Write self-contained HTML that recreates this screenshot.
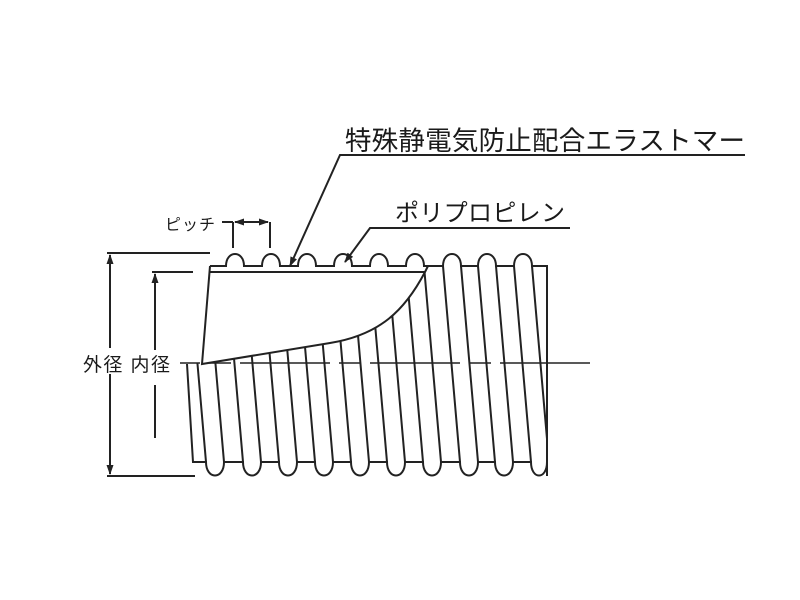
<!DOCTYPE html>
<html><head><meta charset="utf-8"><style>
html,body{margin:0;padding:0;background:#fff;}
svg{display:block;}
text{font-family:"Liberation Sans","Noto Sans CJK JP",sans-serif;fill:#1a1a1a;}
</style></head><body>
<svg width="800" height="600" viewBox="0 0 800 600" xmlns="http://www.w3.org/2000/svg">
<defs>
<clipPath id="c"><rect x="180" y="240" width="367.5" height="250"/></clipPath>
<marker id="a" markerWidth="10" markerHeight="10" refX="9" refY="5" orient="auto" markerUnits="userSpaceOnUse"><path d="M0,1.5 L10,5 L0,8.5 Z" fill="#222"/></marker>
</defs>
<g stroke="#222" stroke-width="2" fill="none">
<g clip-path="url(#c)">
<path d="M189,266 L206,462 M207,266 L224,462
M226,266 L243,462 M244,266 L261,462
M262,266 L279,462 M280,266 L297,462
M298,266 L315,462 M316,266 L333,462
M334,266 L351,462 M352,266 L369,462
M370,266 L387,462 M388,266 L405,462
M406,266 L423,462 M424,266 L441,462
M443,266 L460,462 M461,266 L478,462
M478,266 L495,462 M496,266 L513,462
M514,266 L531,462 M532,266 L549,462"/>
</g>
<path d="M210,266 L428,266 L425,272 C405,310 380,335 330,343 L202,364 Z" fill="#fff" stroke="none"/>
<path d="M175,240 L211,240 L211,266 L202,363 L175,363 Z" fill="#fff" stroke="none"/>
<path d="M210,266 L226,266 C226,250 244,250 244,266 L262,266 C262,250 280,250 280,266 L298,266 C298,250 316,250 316,266 L334,266 C334,250 352,250 352,266 L370,266 C370,250 388,250 388,266 L406,266 C406,250 424,250 424,266 L443,266 C443,250 461,250 461,266 L478,266 C478,250 496,250 496,266 L514,266 C514,250 532,250 532,266 L547,266 L547,476"/>
<path d="M210,272 L425,272"/>
<path d="M210,266 L202,364 L330,343 C380,335 405,310 425,272 L428,266"/>
<path d="M187,364 L193,462 L206,462 C206,480 224,480 224,462 L243,462 C243,480 261,480 261,462 L279,462 C279,480 297,480 297,462 L315,462 C315,480 333,480 333,462 L351,462 C351,480 369,480 369,462 L387,462 C387,480 405,480 405,462 L423,462 C423,480 441,480 441,462 L460,462 C460,480 478,480 478,462 L495,462 C495,480 513,480 513,462 L531,462 C531,480 547,480 547,462"/>
<path d="M180,363 L595,363" stroke-width="1.5" stroke-dasharray="90 9 22 9" stroke-dashoffset="-60"/>
<path d="M107,253 L210,253 M107,476 L195,476 M152,272 L193,272"/>
<path d="M110,348 L110,255" marker-end="url(#a)"/>
<path d="M110,374 L110,474" marker-end="url(#a)"/>
<path d="M155,350 L155,274" marker-end="url(#a)"/>
<path d="M155,385 L155,438"/>
<path d="M233,222 L233,248 M270,222 L270,248 M222,222 L233,222"/>
<path d="M250,222 L235,222" marker-end="url(#a)"/>
<path d="M250,222 L268,222" marker-end="url(#a)"/>
<path d="M745,155 L340,155 L290,266" marker-end="url(#a)"/>
<path d="M570,228 L370,228 L345,262" marker-end="url(#a)"/>
</g>
<text x="345" y="150" font-size="26.5" textLength="400">特殊静電気防止配合エラストマー</text>
<text x="395" y="221" font-size="24" textLength="170">ポリプロピレン</text>
<text x="165" y="230" font-size="16" textLength="50">ピッチ</text>
<text x="83" y="371" font-size="19" textLength="87">外径 内径</text>
</svg>
</body></html>
